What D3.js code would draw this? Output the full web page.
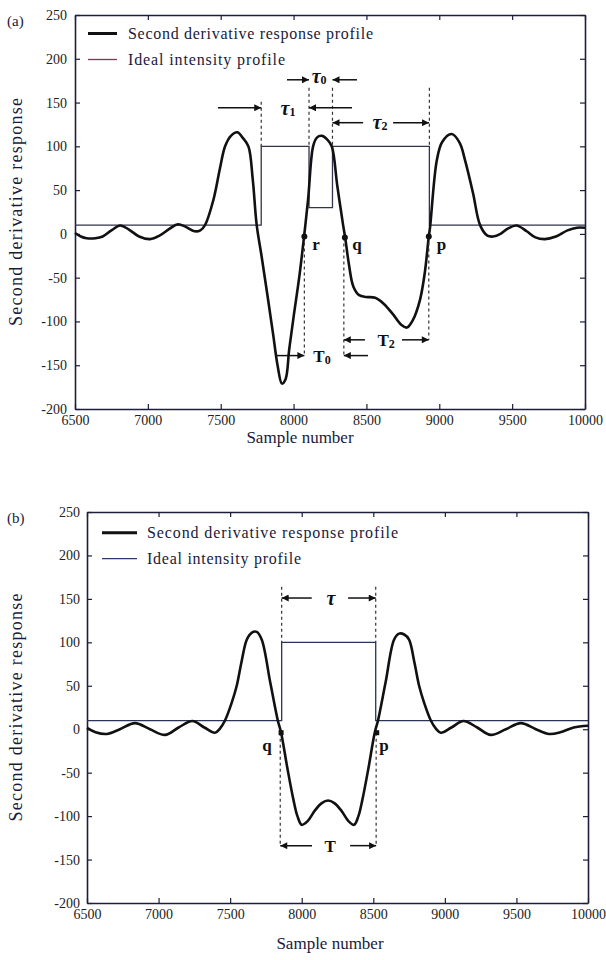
<!DOCTYPE html>
<html><head><meta charset="utf-8">
<script src="https://cdn.jsdelivr.net/npm/d3@7"></script>
<style>body{margin:0;background:#fff}svg text{font-family:"Liberation Serif","DejaVu Serif",serif}</style>
</head><body><svg id="c" width="606" height="960"></svg>
<script>
// ---------- data ----------
const xTicks = [6500,7000,7500,8000,8500,9000,9500,10000];
const yTicks = [-200,-150,-100,-50,0,50,100,150,200,250];

// panel (a) second-derivative response
const sampleA = [6500,6540,6580,6640,6690,6750,6810,6870,6940,7015,7080,7150,7207,7260,7320,7360,7392,7450,7495,7530,7570,7614,7650,7690,7720,7747,7780,7825,7860,7890,7920,7945,7970,8000,8040,8072,8100,8134,8160,8193,8230,8262,8300,8340,8354,8380,8410,8450,8500,8560,8620,8683,8740,8777,8820,8868,8900,8928,8937,8983,9020,9085,9140,9177,9231,9280,9330,9370,9420,9470,9530,9600,9660,9725,9800,9880,9945,10000];
const responseA = [1,-3,-5,-5,-3,4,9.5,5,-3,-6,-2,6,11,8,3,4,10,39,75,100,112,116,110,100,62,10,-25,-75,-115,-150,-171,-166,-132,-95,-48,-3,40,100,110,112,108,100,55,10,-4,-35,-60,-70,-72,-73,-80,-92,-104,-107,-98,-75,-45,-3,8,84,105,114,104,84,47,10,-2,-3,0,6,9.5,3,-4,-6,-3,4,7,7];
// panel (a) ideal intensity profile (step breakpoints)
const idealXA = [6500,7778,8106,8267,8932,10000];
const idealYA = [10,100,30,100,10,10];

// panel (b) second-derivative response
const sampleB = [6500,6560,6637,6730,6835,6940,7045,7140,7236,7320,7394,7430,7464,7510,7546,7580,7616,7650,7686,7721,7780,7833,7856,7900,7942,7970,8000,8040,8090,8140,8184,8228,8278,8328,8366,8396,8424,8466,8510,8533,8586,8645,8680,8716,8750,8786,8820,8856,8902,8936,8972,9046,9130,9226,9321,9426,9531,9636,9729,9806,9900,10000];
const responseB = [1.5,-3.5,-5.5,0,7,0,-6.5,2,9.5,2,-4,1,10,30,50,78,103,111,112,103,54,10,-4,-45,-81,-100,-110,-106,-94,-85,-82,-85,-94,-106,-110,-100,-81,-45,-4,10,54,103,110,109,103,78,50,30,10,1,-4,2,9.5,2,-6.5,0,7,0,-5.5,-3.5,2,4];
const idealXB = [6500,7860,8517,10000];
const idealYB = [10,100,10,10];

// annotations (data units)
const dashA = [[7778,151,100],[8106,167,100],[8267,167,100],[8932,167,100],[8074,-3,-139],[8345,-4,-141],[8928,-3,-121]];
const arrowsA = [[7481,7778,144],[8401,8106,144],[7955,8106,176],[8435,8267,176],[8477,8267,127],[8683,8930,127],[7873,8074,-139],[8511,8345,-139],[8490,8345,-121],[8744,8928,-121]];
const symLabelsA = [["τ","1",7962,144],["τ","0",8175,180],["τ","2",8593,128],["T","0",8195,-139],["T","2",8635,-121]];
const pointsA = [["r",8074,-3,8154,-12],["q",8352,-4,8435,-12],["p",8928,-3,9015,-12]];

const dashB = [[7860,164,100],[8517,164,100],[7850,-4,-134],[8520,-4,-134]];
const arrowsB = [[8070,7860,151],[8324,8517,151],[8072,7850,-134],[8338,8520,-134]];
const symLabelsB = [["τ","",8205,151],["T","",8198,-134]];
const pointsB = [["q",7856,-4,7758,-19],["p",8524,-4,8575,-19]];

// ---------- drawing ----------
const svg = d3.select("#c");
const ink = "#1e1e3c";
const defs = svg.append("defs");
defs.append("marker").attr("id","ah").attr("viewBox","0 0 10 10").attr("refX",10).attr("refY",5)
  .attr("markerWidth",9).attr("markerHeight",7).attr("markerUnits","userSpaceOnUse").attr("orient","auto")
  .append("path").attr("d","M0,0L10,5L0,10Z").attr("fill","#111");

const fmt = d => String(d);

function panel(cfg){
  const {L,R,T,B} = cfg;
  const x = d3.scaleLinear().domain([6500,10000]).range([L,R]);
  const y = d3.scaleLinear().domain([-200,250]).range([B,T]);
  const g = svg.append("g");

  const ax = (a)=>a.tickSizeOuter(0);
  g.append("g").attr("transform",`translate(0,${B})`).call(ax(d3.axisBottom(x).tickValues(xTicks).tickSize(-5).tickPadding(6).tickFormat(fmt)));
  g.append("g").attr("transform",`translate(0,${T})`).call(ax(d3.axisTop(x).tickValues(xTicks).tickSize(-5).tickFormat("")));
  g.append("g").attr("transform",`translate(${L},0)`).call(ax(d3.axisLeft(y).tickValues(yTicks).tickSize(-5).tickPadding(cfg.ypad).tickFormat(fmt)));
  g.append("g").attr("transform",`translate(${R},0)`).call(ax(d3.axisRight(y).tickValues(yTicks).tickSize(-5).tickFormat("")));
  g.selectAll(".domain").attr("stroke",ink).attr("stroke-width",1.6);
  g.selectAll(".tick line").attr("stroke",ink).attr("stroke-width",1.2);
  g.selectAll(".tick text").attr("font-size",14).attr("fill","#222").attr("font-family","Liberation Serif");

  // ideal profile
  const idealData = cfg.ix.map((v,i)=>[v,cfg.iy[i]]);
  g.append("path").datum(idealData).attr("fill","none").attr("stroke",cfg.idealColor).attr("stroke-width",1.3)
    .attr("d",d3.line().x(d=>x(d[0])).y(d=>y(d[1])).curve(d3.curveStepAfter));
  // response
  const respData = cfg.sx.map((v,i)=>[v,cfg.sy[i]]);
  g.append("path").datum(respData).attr("fill","none").attr("stroke","#111").attr("stroke-width",2.6).attr("stroke-linejoin","round")
    .attr("d",d3.line().x(d=>x(d[0])).y(d=>y(d[1])).curve(d3.curveCatmullRom.alpha(0.5)));

  // dashed guide lines
  g.selectAll(".dash").data(cfg.dash).join("line").attr("stroke","#333").attr("stroke-width",1.2).attr("stroke-dasharray","3,3")
    .attr("x1",d=>x(d[0])).attr("x2",d=>x(d[0])).attr("y1",d=>y(d[1])).attr("y2",d=>y(d[2]));
  // arrows
  g.selectAll(".arr").data(cfg.arrows).join("line").attr("stroke","#111").attr("stroke-width",1.5).attr("marker-end","url(#ah)")
    .attr("x1",d=>x(d[0])).attr("x2",d=>x(d[1])).attr("y1",d=>y(d[2])).attr("y2",d=>y(d[2]));
  // symbol labels
  const sl = g.selectAll(".sym").data(cfg.syms).join("text").attr("x",d=>x(d[2])).attr("y",d=>y(d[3]))
    .attr("text-anchor","middle").attr("dominant-baseline","central").attr("font-size",d=>d[0]==="τ"?20:17).attr("font-weight","bold")
    .attr("font-style",d=>d[0]==="τ"?"italic":"normal").attr("fill","#111");
  sl.append("tspan").text(d=>d[0]);
  sl.append("tspan").attr("font-size",12).attr("font-style","normal").attr("dy",4).text(d=>d[1]);
  // points
  if(cfg.square){
    g.selectAll(".pt").data(cfg.points).join("rect").attr("x",d=>x(d[1])-2.5).attr("y",d=>y(d[2])-2.5).attr("width",5).attr("height",5).attr("fill","#111");
  } else {
    g.selectAll(".pt").data(cfg.points).join("circle").attr("cx",d=>x(d[1])).attr("cy",d=>y(d[2])).attr("r",3).attr("fill","#111");
  }
  g.selectAll(".ptl").data(cfg.points).join("text").attr("x",d=>x(d[3])).attr("y",d=>y(d[4])).attr("text-anchor","middle")
    .attr("dominant-baseline","central").attr("font-size",17).attr("font-weight","bold").attr("fill","#111").text(d=>d[0]);

  // legend
  const lg = cfg.legend;
  g.append("line").attr("x1",lg.x1).attr("x2",lg.x2).attr("y1",lg.y).attr("y2",lg.y).attr("stroke","#111").attr("stroke-width",3);
  g.append("line").attr("x1",lg.x1).attr("x2",lg.x2).attr("y1",lg.y+26).attr("y2",lg.y+26).attr("stroke",cfg.legendIdeal).attr("stroke-width",1.3);
  g.append("text").attr("x",lg.tx).attr("y",lg.y+5).attr("font-size",16).attr("textLength",lg.w1).attr("fill","#1a1a3a").text("Second derivative response profile");
  g.append("text").attr("x",lg.tx).attr("y",lg.y+31).attr("font-size",16).attr("textLength",lg.w2).attr("fill","#1a1a3a").text("Ideal intensity profile");

  // axis titles
  g.append("text").attr("x",cfg.xlx).attr("y",B+cfg.xly).attr("text-anchor","middle").attr("font-size",17).attr("fill","#1a1a3a").text("Sample number");
  g.append("text").attr("transform",`translate(${cfg.ylx},${(T+B)/2}) rotate(-90)`).attr("text-anchor","middle")
    .attr("dominant-baseline","central").attr("font-size",18).attr("textLength",cfg.ylw).attr("fill","#1a1a3a").text("Second derivative response");
  g.append("text").attr("x",7).attr("y",T+11).attr("font-size",15).attr("fill","#1a1a3a").text(cfg.tag);
}

panel({L:75,R:585,T:15,B:409,ypad:8,ylx:16,ylw:228,xlx:300,xly:34,tag:"(a)",sx:sampleA,sy:responseA,ix:idealXA,iy:idealYA,
  idealColor:"#33334d",legendIdeal:"#7a3558",dash:dashA,arrows:arrowsA,syms:symLabelsA,points:pointsA,square:false,
  legend:{x1:88,x2:117,y:33.5,tx:128,w1:245,w2:157}});
panel({L:87,R:588,T:512,B:903,ypad:7,ylx:16,ylw:228,xlx:330,xly:46,tag:"(b)",sx:sampleB,sy:responseB,ix:idealXB,iy:idealYB,
  idealColor:"#2a3458",legendIdeal:"#2a3a68",dash:dashB,arrows:arrowsB,syms:symLabelsB,points:pointsB,square:true,
  legend:{x1:102,x2:137,y:532.7,tx:147,w1:251,w2:154}});
</script></body></html>
